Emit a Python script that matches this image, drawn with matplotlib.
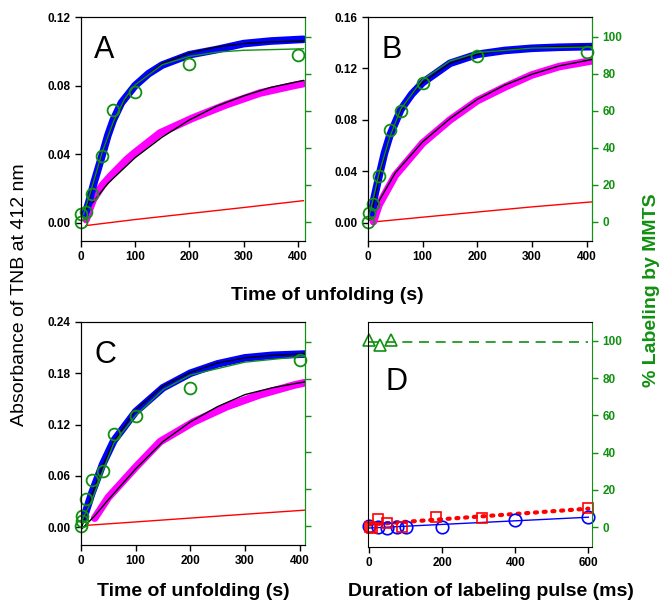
import matplotlib
matplotlib.use("Agg")
import matplotlib.pyplot as plt

plt.rcParams['font.family'] = ['Liberation Sans', 'DejaVu Sans']

GREEN = '#119011'
PINK = '#ff00ff'

# ---- panel A ----
tA_blue = [8, 15, 25, 40, 50, 60, 75, 100, 125, 150, 200, 250, 300, 350, 410]
yA_blue = [0.005, 0.012, 0.024, 0.040, 0.051, 0.060, 0.070, 0.080, 0.087, 0.092, 0.098, 0.101, 0.1045, 0.106, 0.107]
tA_bfit = [10, 20, 40, 60, 80, 100, 150, 200, 250, 300, 350, 410]
yA_bfit = [0.007, 0.019, 0.041, 0.058, 0.071, 0.080, 0.093, 0.099, 0.1025, 0.1045, 0.1055, 0.106]
tA_pink = [10, 14, 23, 40, 54, 85, 100, 146, 207, 268, 330, 391, 410]
yA_pink = [0.002, 0.006, 0.0136, 0.022, 0.027, 0.037, 0.041, 0.0524, 0.0612, 0.0689, 0.0757, 0.080, 0.0812]
tA_pfit = [8, 20, 50, 100, 150, 200, 250, 300, 350, 410]
yA_pfit = [0.006, 0.011, 0.023, 0.038, 0.050, 0.060, 0.068, 0.074, 0.079, 0.083]
tA_red = [10, 100, 200, 300, 410]
yA_red = [-0.0015, 0.002, 0.0055, 0.009, 0.013]
tA_circ = [0, 0, 10, 20, 40, 60, 100, 200, 400]
pA_circ = [0, 4.5, 5.2, 15.3, 35.4, 60.5, 70, 85.3, 90.1]
tA_gfit = [5, 20, 40, 60, 80, 100, 150, 200, 250, 300, 410]
pA_gfit = [4, 18, 38, 54, 66, 74, 85, 89.5, 91.8, 92.8, 93.6]

# ---- panel B ----
tB_blue = [8, 10, 20, 30, 40, 60, 80, 100, 150, 200, 250, 300, 350, 410]
yB_blue = [0.008, 0.017, 0.036, 0.054, 0.068, 0.088, 0.100, 0.109, 0.124, 0.131, 0.134, 0.1357, 0.1365, 0.137]
tB_bfit = [8, 20, 40, 60, 80, 100, 150, 200, 250, 300, 350, 410]
yB_bfit = [0.010, 0.035, 0.067, 0.087, 0.100, 0.109, 0.124, 0.131, 0.1345, 0.136, 0.137, 0.1375]
tB_pink = [10, 20, 50, 100, 150, 200, 250, 300, 350, 410]
yB_pink = [0.001, 0.014, 0.037, 0.062, 0.080, 0.095, 0.1055, 0.115, 0.1215, 0.126]
tB_pfit = [2, 20, 50, 100, 150, 200, 250, 300, 350, 410]
yB_pfit = [0.002, 0.017, 0.039, 0.063, 0.081, 0.096, 0.107, 0.1155, 0.122, 0.127]
tB_red = [10, 100, 200, 300, 410]
yB_red = [0.0008, 0.0045, 0.0085, 0.0125, 0.0164]
tB_circ = [0, 2, 10, 20, 40, 60, 100, 200, 400]
pB_circ = [-0.2, 4.8, 9.9, 25, 49.7, 60, 74.9, 89.8, 91.9]
tB_gfit = [0, 10, 20, 40, 60, 100, 150, 200, 300, 410]
pB_gfit = [1, 13, 26, 46, 61, 77, 87, 91.5, 94, 94.6]

# ---- panel C ----
tC_blue = [5, 20, 40, 60, 100, 150, 200, 250, 300, 350, 410]
yC_blue = [0.0104, 0.040, 0.074, 0.101, 0.135, 0.163, 0.180, 0.191, 0.198, 0.201, 0.2025]
tC_bfit = [0, 20, 40, 60, 100, 150, 200, 250, 300, 350, 410]
yC_bfit = [-0.003, 0.038, 0.072, 0.100, 0.137, 0.165, 0.181, 0.192, 0.198, 0.201, 0.203]
tC_pink = [25, 50, 100, 145, 206, 267, 328, 389, 410]
yC_pink = [0.0104, 0.0347, 0.070, 0.100, 0.123, 0.141, 0.155, 0.166, 0.169]
tC_pfit = [0, 25, 50, 100, 150, 200, 250, 300, 350, 410]
yC_pfit = [-0.003, 0.013, 0.032, 0.068, 0.100, 0.123, 0.141, 0.155, 0.163, 0.170]
tC_red = [10, 100, 200, 300, 410]
yC_red = [0.002, 0.006, 0.0105, 0.015, 0.0198]
tC_circ = [0, 1, 2, 10, 20, 40, 60, 100, 200, 400]
pC_circ = [0, 2.7, 5.7, 14.9, 25.1, 30.1, 50.2, 60, 74.9, 90]
tC_gfit = [0, 20, 40, 60, 100, 150, 200, 300, 410]
pC_gfit = [2, 14, 30, 45, 60, 74, 82, 89, 92.3]

# ---- panel D ----
tD_circ = [0, 25, 50, 75, 100, 200, 400, 600]
pD_circ = [0.4, 0, -0.4, 0, 0, 0, 3.9, 5.4]
tD_cfit = [0, 600]
pD_cfit = [-0.5, 5.3]
tD_sq = [2, 8, 23, 48, 91, 183, 308, 600]
pD_sq = [0.2, -0.3, 4.1, 2.3, 0, 5.4, 5, 10.4]
tD_sqfit = [0, 600]
pD_sqfit = [1.4, 9.9]
tD_tri = [0, 30, 60]
pD_tri = [100.7, 97.7, 100.7]
tD_dash = [0, 600]
pD_dash = [99.3, 99.3]

W, H = 663, 602
fig = plt.figure(figsize=(W / 100, H / 100), dpi=100)


def box(l, t, r, b):
    return [l / W, 1 - b / H, (r - l) / W, (b - t) / H]


tick_kw = dict(direction='out', length=4, width=1, labelsize=8.5)


def style_left(ax, ticks, labels):
    ax.set_yticks(ticks)
    ax.set_yticklabels(labels, fontweight='bold')
    ax.tick_params(axis='both', **tick_kw)
    for lab in ax.get_xticklabels():
        lab.set_fontweight('bold')
    ax.spines['right'].set_color(GREEN)


def twin(ax, show_labels):
    a2 = ax.twinx()
    a2.set_ylim(-10.3, 110.8)
    a2.set_yticks([0, 20, 40, 60, 80, 100])
    a2.spines['right'].set_color(GREEN)
    a2.tick_params(axis='y', colors=GREEN, **tick_kw)
    if show_labels:
        a2.set_yticklabels([0, 20, 40, 60, 80, 100], fontweight='bold', color=GREEN)
    else:
        a2.set_yticklabels([])
    return a2


def kinetic_panel(rect, letter, xmax, ymax, yticks, ylabs,
                  tb, yb, tbf, ybf, tp, yp, tpf, ypf, tr, yr, tc, pc, tg, pg, labels):
    ax = fig.add_axes(rect)
    ax.plot(tr, yr, color='red', lw=1)
    ax.plot(tp, yp, color=PINK, lw=5.5, solid_capstyle='round', solid_joinstyle='round')
    ax.plot(tpf, ypf, color='black', lw=1.0)
    ax.plot(tb, yb, color='blue', lw=5.5, solid_capstyle='round', solid_joinstyle='round')
    ax.plot(tbf, ybf, color='black', lw=1.0)
    ax.set_xlim(0, xmax)
    ax.set_ylim(-0.0105 * ymax / 0.12, ymax)
    ax.set_xticks([0, 100, 200, 300, 400])
    style_left(ax, yticks, ylabs)
    ax.text(0.06, 0.92, letter, transform=ax.transAxes, fontsize=22, va='top')
    a2 = twin(ax, labels)
    a2.plot(tg, pg, color=GREEN, lw=1)
    a2.plot(tc, pc, 'o', ms=8.5, mfc='none', mec=GREEN, mew=1.3, clip_on=False)
    return ax


kinetic_panel(box(80.7, 17, 305, 241), 'A', 413, 0.12,
              [0, 0.04, 0.08, 0.12], ['0.00', '0.04', '0.08', '0.12'],
              tA_blue, yA_blue, tA_bfit, yA_bfit, tA_pink, yA_pink, tA_pfit, yA_pfit,
              tA_red, yA_red, tA_circ, pA_circ, tA_gfit, pA_gfit, False)
kinetic_panel(box(368, 17, 592, 241), 'B', 410, 0.16,
              [0, 0.04, 0.08, 0.12, 0.16], ['0.00', '0.04', '0.08', '0.12', '0.16'],
              tB_blue, yB_blue, tB_bfit, yB_bfit, tB_pink, yB_pink, tB_pfit, yB_pfit,
              tB_red, yB_red, tB_circ, pB_circ, tB_gfit, pB_gfit, True)
kinetic_panel(box(81, 322, 305, 545), 'C', 410, 0.24,
              [0, 0.06, 0.12, 0.18, 0.24], ['0.00', '0.06', '0.12', '0.18', '0.24'],
              tC_blue, yC_blue, tC_bfit, yC_bfit, tC_pink, yC_pink, tC_pfit, yC_pfit,
              tC_red, yC_red, tC_circ, pC_circ, tC_gfit, pC_gfit, False)

# panel D
axD = fig.add_axes(box(368, 322, 592, 547))
axD.plot(tD_dash, pD_dash, color=GREEN, lw=1.2, ls=(0, (6, 4)))
axD.plot(tD_tri, pD_tri, '^', ms=9, mfc='none', mec=GREEN, mew=1.2, clip_on=False)
axD.plot(tD_cfit, pD_cfit, color='blue', lw=1)
axD.plot(tD_sqfit, pD_sqfit, color='red', lw=3, ls=(0, (0.5, 1.6)), dash_capstyle='round')
axD.plot(tD_circ, pD_circ, 'o', ms=9, mfc='none', mec='blue', mew=1.2, clip_on=False)
axD.plot(tD_sq, pD_sq, 's', ms=7, mfc='none', mec='red', mew=1.2, clip_on=False)
axD.set_xlim(-3, 610)
axD.set_ylim(-10.7, 110.2)
axD.set_xticks([0, 200, 400, 600])
axD.yaxis.tick_right()
axD.set_yticks([0, 20, 40, 60, 80, 100])
axD.set_yticklabels([0, 20, 40, 60, 80, 100], fontweight='bold', color=GREEN)
axD.tick_params(axis='both', **tick_kw)
axD.tick_params(axis='y', colors=GREEN)
for lab in axD.get_xticklabels():
    lab.set_fontweight('bold')
axD.spines['right'].set_color(GREEN)
axD.text(0.08, 0.80, 'D', transform=axD.transAxes, fontsize=22, va='top')

# axis titles
fig.text(20 / W, 1 - 295 / H, 'Absorbance of TNB at 412 nm', rotation=90,
         ha='center', va='center', fontsize=14)
fig.text(652 / W, 1 - 290 / H, '% Labeling by MMTS', rotation=90, color=GREEN,
         ha='center', va='center', fontsize=14, fontweight='bold')
fig.text(327 / W, 1 - 296 / H, 'Time of unfolding (s)', ha='center', va='center',
         fontsize=14, fontweight='bold')
fig.text(193 / W, 1 - 592 / H, 'Time of unfolding (s)', ha='center', va='center',
         fontsize=14, fontweight='bold')
fig.text(491 / W, 1 - 592 / H, 'Duration of labeling pulse (ms)', ha='center', va='center',
         fontsize=14, fontweight='bold')

fig.savefig('out.png', dpi=100)
